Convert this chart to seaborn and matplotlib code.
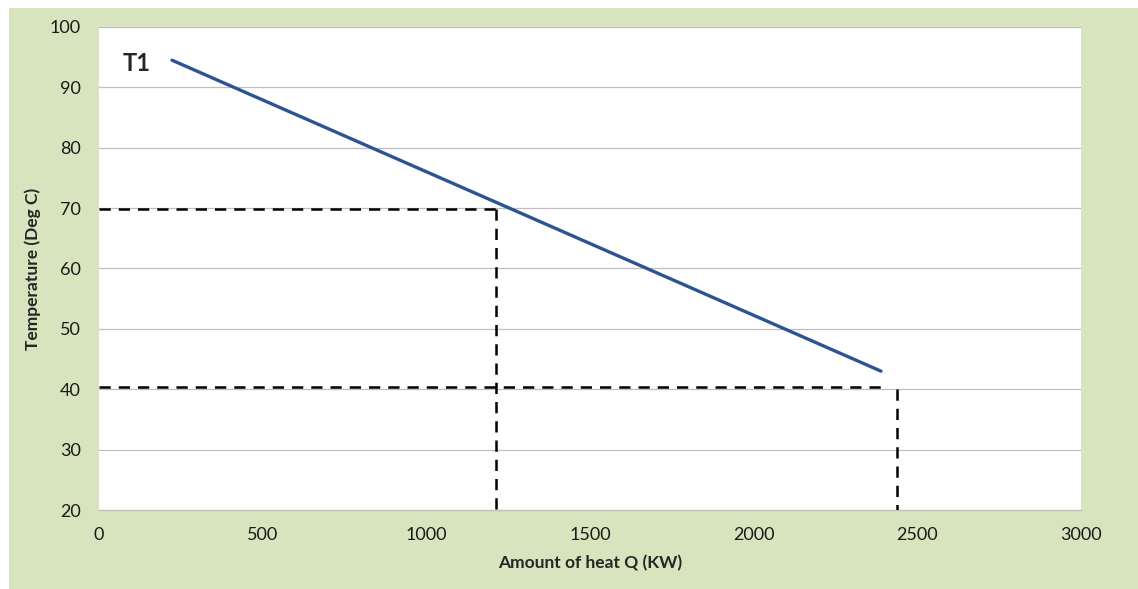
import matplotlib
matplotlib.use("Agg")
import matplotlib.pyplot as plt
import seaborn as sns
import pandas as pd
from matplotlib.patches import Rectangle

# Data
heat_q = [223, 2389]
temp_t1 = [94.5, 43.0]

# Guide lines (dashed)
guide_hot_q = 1214
guide_hot_t = 69.8
guide_cold_q = 2438
guide_cold_t = 40.4

x_ticks = [0, 500, 1000, 1500, 2000, 2500, 3000]
y_ticks = [20, 30, 40, 50, 60, 70, 80, 90, 100]

df = pd.DataFrame({"Q": heat_q, "T": temp_t1})

sns.set_style("white")
plt.rcParams['font.family'] = ['Lato', 'DejaVu Sans']

fig = plt.figure(figsize=(11.38, 5.89), dpi=100)
fig.patch.set_facecolor("white")
fig.patches.append(Rectangle((9 / 1138, 0), 1, 1 - 8 / 589, transform=fig.transFigure,
                             facecolor="#D7E4BD", edgecolor="none", zorder=-10))

ax = fig.add_axes([0.0870, 0.1341, 0.8629, 0.8201])
ax.set_zorder(5)
ax.set_facecolor("white")

for t in y_ticks[1:]:
    ax.axhline(t, color="#BFBFBF", lw=0.9, zorder=1)

sns.lineplot(data=df, x="Q", y="T", ax=ax, color="#2C5494", lw=2.4, zorder=3)

dash = dict(color="black", lw=1.8, dashes=(4.5, 3.2), zorder=4)
ax.plot([0, guide_hot_q], [guide_hot_t, guide_hot_t], **dash)
ax.plot([guide_hot_q, guide_hot_q], [guide_hot_t, 20], **dash)
ax.plot([0, guide_cold_q - 30], [guide_cold_t, guide_cold_t], **dash)
ax.plot([guide_cold_q, guide_cold_q], [40, 20], **dash)

ax.text(116, 94.0, "T1", fontsize=17, fontweight="bold", ha="center", va="center")

ax.set_xlim(0, 3000)
ax.set_ylim(20, 100)
ax.set_xticks(x_ticks)
ax.set_yticks(y_ticks)
ax.tick_params(axis="both", length=0, labelsize=13, colors="#1a1a1a")
ax.tick_params(axis="x", pad=12)
ax.tick_params(axis="y", pad=13)

for s in ["top", "right", "left"]:
    ax.spines[s].set_visible(False)
ax.spines["bottom"].set_color("#BFBFBF")
ax.spines["bottom"].set_linewidth(1.0)

ax.set_xlabel("Amount of heat Q (KW)", fontsize=12.5, fontweight="bold", labelpad=9)
ax.set_ylabel("Temperature (Deg C)", fontsize=12.5, fontweight="bold", labelpad=6)

plt.savefig("out.png", dpi=100, facecolor=fig.get_facecolor())
